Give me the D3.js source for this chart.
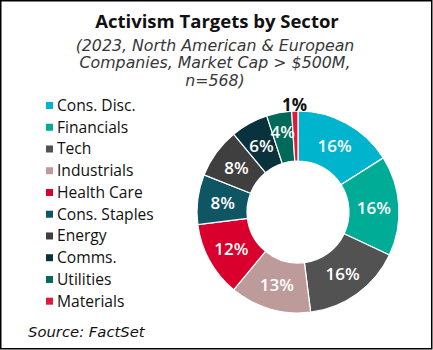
<!DOCTYPE html>
<html><head><meta charset="utf-8">
<script src="https://cdn.jsdelivr.net/npm/d3@7"></script>
<style>
html,body{margin:0;padding:0;background:#fff;}
svg{display:block;}
</style></head>
<body>
<svg id="chart" width="433" height="350"></svg>
<script>
const categories = ["Cons. Disc.","Financials","Tech","Industrials","Health Care","Cons. Staples","Energy","Comms.","Utilities","Materials"];
const values = [16,16,16,13,12,8,8,6,4,1];
const colors = ["#00B4CD","#00AC96","#525252","#BC9B9A","#DA002D","#0F5564","#3F3F3F","#0A323C","#006A5A","#DF1A3E"];
const titleText = "Activism Targets by Sector";
const subtitleLines = ["(2023, North American & European","Companies, Market Cap > $500M,","n=568)"];
const sourceText = "Source: FactSet";

const svg = d3.select("#chart");
const W = 433, H = 350;
const font = "'Open Sans', Lato, sans-serif";
const italicFont = "'DejaVu Sans', 'Open Sans', sans-serif";

svg.append("rect").attr("x",0.75).attr("y",0.75).attr("width",W-2).attr("height",H-2)
  .attr("fill","#fff").attr("stroke","#000").attr("stroke-width",1.5);

svg.append("text").attr("x",217).attr("y",28).attr("text-anchor","middle")
  .attr("font-family",font).attr("font-weight",700).attr("font-size",18.5).attr("fill","#111")
  .text(titleText);
svg.append("g").selectAll("text").data(subtitleLines).join("text")
  .attr("x",215).attr("y",(d,i)=>50.5+i*17.5).attr("text-anchor","middle")
  .attr("font-family",italicFont).attr("font-style","italic").attr("font-weight",400)
  .attr("font-size",15.8).attr("fill","#383838").text(d=>d);

// donut
const cx = 298, cy = 212, rOut = 101, rIn = 51;
const pie = d3.pie().sort(null).value(d=>d)(values);
const arc = d3.arc().innerRadius(rIn).outerRadius(rOut);
const g = svg.append("g").attr("transform",`translate(${cx},${cy})`);
g.selectAll("path").data(pie).join("path")
  .attr("d",arc).attr("fill",(d,i)=>colors[i])
  .attr("stroke","#fff").attr("stroke-width",1.2);

const labelArc = d3.arc().innerRadius(76).outerRadius(76);
g.selectAll("text.lbl").data(pie).join("text").attr("class","lbl")
  .each(function(d,i){
    const v = values[i];
    let x, y, fill = "#fff", fw = 600;
    if (v < 2) {
      const a = (d.startAngle+d.endAngle)/2;
      x = Math.sin(a)*(rOut+7); y = -Math.cos(a)*(rOut+7);
      fill = "#111"; fw = 700;
    } else if (v < 5) {
      const a = (d.startAngle+d.endAngle)/2;
      x = Math.sin(a)*82; y = -Math.cos(a)*82;
    } else {
      [x,y] = labelArc.centroid(d);
    }
    d3.select(this).attr("x",x).attr("y",y).attr("fill",fill).attr("font-weight",fw);
  })
  .attr("text-anchor","middle").attr("dominant-baseline","central")
  .attr("font-family",font).attr("font-size",17)
  .text(d=>d.value+"%");

// legend
const leg = svg.append("g");
const legY = d3.scaleLinear().domain([0,categories.length-1]).range([105,300.7]);
categories.forEach((c,i)=>{
  leg.append("rect").attr("x",46).attr("y",legY(i)-3).attr("width",7).attr("height",7).attr("fill",colors[i]);
  leg.append("text").attr("x",57).attr("y",legY(i)).attr("dominant-baseline","central")
    .attr("font-family",font).attr("font-size",15.6).attr("fill","#111").text(c);
});

svg.append("text").attr("x",28).attr("y",331).attr("dominant-baseline","central")
  .attr("font-family",italicFont).attr("font-style","italic").attr("font-size",14.8).attr("fill","#111")
  .text(sourceText);
</script>
</body></html>
